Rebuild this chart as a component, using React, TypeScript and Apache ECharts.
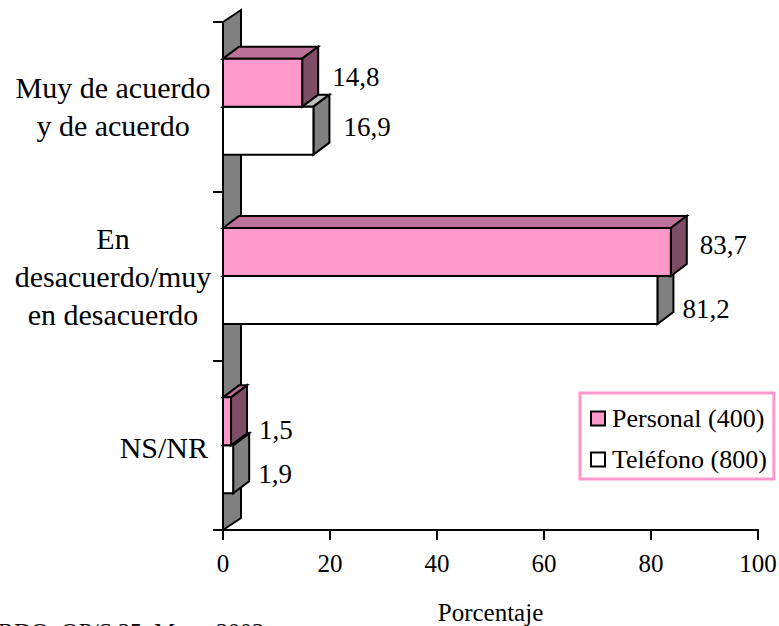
import React, { useEffect, useRef } from "react";
import * as echarts from "echarts";

const categories = ["Muy de acuerdo\ny de acuerdo", "En\ndesacuerdo/muy\nen desacuerdo", "NS/NR"];
const personalName = "Personal (400)";
const telefonoName = "Teléfono (800)";
const personal = [14.8, 83.7, 1.5];
const telefono = [16.9, 81.2, 1.9];
const personalLabelShift = [[14, -6], [13, -7], [12, 9]];
const telefonoLabelShift = [[14, -4], [9, 9], [9, 5]];
const xTicks = [0, 20, 40, 60, 80, 100];

const FONT = "'Liberation Serif', 'Times New Roman', serif";
const DX = 16;
const DY = 12;
const INK = "#000";

function polygon(points: number[][], fill: string) {
  return { type: "polygon", shape: { points }, style: { fill, stroke: INK, lineWidth: 2, lineJoin: "miter" } };
}

function barRenderer(offsetSign: number, front: string, top: string, side: string, shifts: number[][]) {
  return (params: any, api: any) => {
    const value = api.value(0);
    const cat = api.value(1);
    const [x1, yc] = api.coord([value, cat]);
    const [x0] = api.coord([0, cat]);
    const h = 48;
    const yA = offsetSign < 0 ? yc - h : yc;
    const yB = yA + h;
    const shift = shifts[params.dataIndex];
    const text = String(value).replace(".", ",");
    return {
      type: "group",
      children: [
        polygon([[x0, yA], [x0 + DX, yA - DY], [x1 + DX, yA - DY], [x1, yA]], top),
        polygon([[x1, yA], [x1 + DX, yA - DY], [x1 + DX, yB - DY], [x1, yB]], side),
        polygon([[x0, yA], [x1, yA], [x1, yB], [x0, yB]], front),
        {
          type: "text",
          style: {
            text,
            x: x1 + DX + shift[0],
            y: (yA + yB) / 2 + shift[1],
            fill: INK,
            font: `27px ${FONT}`,
            align: "left",
            verticalAlign: "middle",
          },
        },
      ],
    };
  };
}

function wallRenderer(params: any, api: any) {
  const cs = params.coordSys;
  const l = cs.x;
  const t = cs.y;
  const b = cs.y + cs.height;
  return polygon([[l, t], [l + 18, t - 12], [l + 18, b - 12], [l, b]], "#808080");
}

function makeOption() {
  const wrap = (s: string, i: number) => {
    const lines = s.split("\n");
    const key = lines.length === 1 ? "r" : "c";
    return lines.map((ln) => `{${key}|${ln}}`).join("\n");
  };
  const labelStyle = { fontFamily: FONT, fontSize: 30, color: INK, lineHeight: 38 };
  return {
    animation: false,
    backgroundColor: "#fff",
    textStyle: { fontFamily: FONT },
    grid: { left: 223, top: 22, width: 535, height: 508, containLabel: false, outerBoundsMode: "none" },
    legend: {
      data: [personalName, telefonoName],
      orient: "vertical",
      left: 580,
      top: 393,
      padding: [12, 7, 6, 10],
      itemWidth: 14,
      itemHeight: 14,
      itemGap: 14,
      backgroundColor: "#fff",
      borderColor: "#FF99CC",
      borderWidth: 3,
      icon: "rect",
      selectedMode: false,
      textStyle: { fontFamily: FONT, fontSize: 26, color: INK, lineHeight: 27, padding: [0, 0, 0, 2] },
    },
    xAxis: {
      type: "value",
      min: 0,
      max: 100,
      interval: 20,
      name: "Porcentaje",
      nameLocation: "middle",
      nameGap: 70,
      nameTextStyle: { fontFamily: FONT, fontSize: 25, color: INK },
      axisLine: { show: true, lineStyle: { color: INK, width: 2 } },
      axisTick: { show: true, length: 10, lineStyle: { color: INK, width: 2 } },
      axisLabel: { fontFamily: FONT, fontSize: 25, color: INK, margin: 21, formatter: (v: number) => (xTicks.includes(v) ? String(v) : "") },
      splitLine: { show: false },
    },
    yAxis: {
      type: "category",
      inverse: true,
      data: categories,
      axisLine: { show: true, lineStyle: { color: INK, width: 2 } },
      axisTick: { show: true, length: 10, lineStyle: { color: INK, width: 2 } },
      axisLabel: {
        margin: 13,
        align: "right",
        formatter: wrap,
        rich: {
          c: { ...labelStyle, width: 194, align: "center" },
          r: { ...labelStyle, align: "right", padding: [4, 2, 0, 0] },
        },
      },
      splitLine: { show: false },
    },
    graphic: [
      {
        type: "text",
        left: -2,
        top: 619,
        style: { text: "RDO: OP/S 25. Mayo 2002", font: `24px ${FONT}`, fill: INK },
      },
    ],
    series: [
      {
        type: "custom",
        name: "wall",
        silent: true,
        z: 1,
        renderItem: wallRenderer,
        data: [[0, 0]],
        encode: { x: 0, y: 1 },
      },
      {
        type: "custom",
        name: telefonoName,
        z: 2,
        renderItem: barRenderer(1, "#ffffff", "#C0C0C0", "#808080", telefonoLabelShift),
        itemStyle: { color: "#ffffff", borderColor: INK, borderWidth: 2 },
        data: telefono.map((v, i) => [v, i]),
        encode: { x: 0, y: 1 },
      },
      {
        type: "custom",
        name: personalName,
        z: 3,
        renderItem: barRenderer(-1, "#FF99CC", "#BF7299", "#804D66", personalLabelShift),
        itemStyle: { color: "#FF99CC", borderColor: INK, borderWidth: 2 },
        data: personal.map((v, i) => [v, i]),
        encode: { x: 0, y: 1 },
      },
    ],
  };
}

export default function App() {
  const ref = useRef<HTMLDivElement>(null);
  useEffect(() => {
    const chart = echarts.init(ref.current!, null, { renderer: "svg" });
    chart.setOption(makeOption() as any);
    return () => chart.dispose();
  }, []);
  return <div ref={ref} style={{ position: "fixed", left: 0, top: 0, width: 779, height: 626 }} />;
}
